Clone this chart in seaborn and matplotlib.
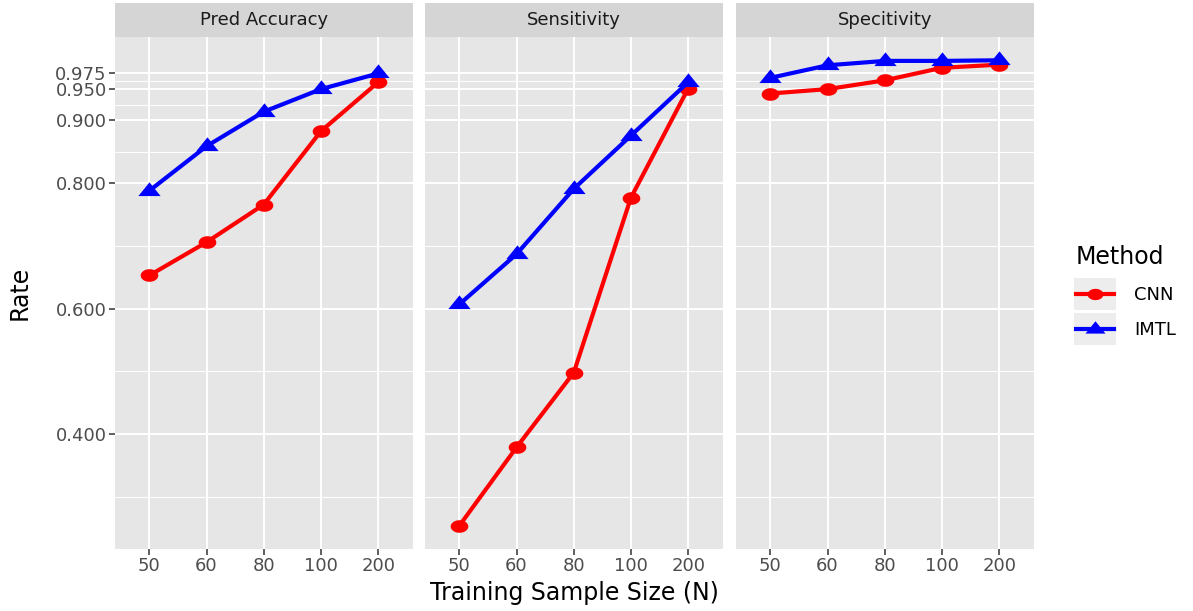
import numpy as np
import pandas as pd
import matplotlib
matplotlib.use("Agg")
import matplotlib.pyplot as plt
import seaborn as sns
from matplotlib.path import Path
from matplotlib.patches import Rectangle
from matplotlib.lines import Line2D

# ---------------- data ----------------
sizes = ["50", "60", "80", "100", "200"]
metrics = ["Pred Accuracy", "Sensitivity", "Specitivity"]
methods = ["CNN", "IMTL"]
cnn_acc = [0.653, 0.706, 0.766, 0.883, 0.961]
imtl_acc = [0.788, 0.859, 0.914, 0.950, 0.975]
cnn_sens = [0.254, 0.379, 0.498, 0.777, 0.951]
imtl_sens = [0.607, 0.687, 0.791, 0.876, 0.961]
cnn_spec = [0.943, 0.950, 0.964, 0.984, 0.989]
imtl_spec = [0.968, 0.988, 0.995, 0.995, 0.996]
y_major = [0.400, 0.600, 0.800, 0.900, 0.950, 0.975]
y_labels = ["0.400", "0.600", "0.800", "0.900", "0.950", "0.975"]

series = {
    ("Pred Accuracy", "CNN"): cnn_acc, ("Pred Accuracy", "IMTL"): imtl_acc,
    ("Sensitivity", "CNN"): cnn_sens, ("Sensitivity", "IMTL"): imtl_sens,
    ("Specitivity", "CNN"): cnn_spec, ("Specitivity", "IMTL"): imtl_spec,
}
rows = []
for (m, meth), vals in series.items():
    for n, v in zip(sizes, vals):
        rows.append({"Metric": m, "Method": meth, "N": n, "Rate": v})
df = pd.DataFrame(rows)

# ---------------- style ----------------
plt.rcParams["font.family"] = ["DejaVu Sans"]
FONT_TICK = 13
FONT_STRIP = 13
FONT_TITLE = 17
palette = {"CNN": "#FF0000", "IMTL": "#0000FF"}
PANEL_BG = "#E6E6E6"
STRIP_BG = "#D5D5D5"

# horizontally stretched markers (reference is a stretched image)
t = np.linspace(0, 2 * np.pi, 60)
ellipse = Path(np.column_stack([0.7 * np.cos(t), 0.5 * np.sin(t)]), closed=False)
tri = Path([(0, 0.667), (0.81, -0.333), (-0.81, -0.333), (0, 0.667)],
           [Path.MOVETO, Path.LINETO, Path.LINETO, Path.CLOSEPOLY])
markers = {"CNN": ellipse, "IMTL": tri}
msizes = {"CNN": 12.7, "IMTL": 16}

W, H = 1193, 611
fig = plt.figure(figsize=(W / 100, H / 100), dpi=100)
fig.patch.set_facecolor("white")

panel_left = [115, 425, 736]
panel_w = 297.5
top_px, bot_px = 37, 549
strip_h = 34

ymin_d = df["Rate"].min()
ymax_d = df["Rate"].max()
rng = ymax_d - ymin_d
ylim = (ymin_d - 0.05 * rng, ymax_d + 0.05 * rng)
y_minor = [(a + b) / 2 for a, b in zip(y_major[:-1], y_major[1:])]
y_minor = [2 * y_major[0] - y_minor[0]] + y_minor

axes = []
for i, m in enumerate(metrics):
    ax = fig.add_axes([panel_left[i] / W, 1 - bot_px / H,
                       panel_w / W, (bot_px - top_px) / H])
    axes.append(ax)
    ax.set_facecolor(PANEL_BG)
    for s in ax.spines.values():
        s.set_visible(False)
    sub = df[df["Metric"] == m]
    for meth in methods:
        d = sub[sub["Method"] == meth]
        sns.lineplot(data=d, x="N", y="Rate", color=palette[meth],
                     marker=markers[meth], markersize=msizes[meth],
                     markeredgewidth=0, linewidth=3, sort=False, ax=ax,
                     legend=False, zorder=3)
    ax.set_xlim(-0.6, len(sizes) - 1 + 0.6)
    ax.set_ylim(*ylim)
    ax.set_yticks(y_major)
    ax.set_yticks(y_minor, minor=True)
    ax.set_yticklabels(y_labels)
    ax.set_axisbelow(True)
    ax.grid(which="major", color="white", linewidth=1.4)
    ax.grid(which="minor", axis="y", color="white", linewidth=0.7)
    ax.tick_params(axis="both", which="major", length=4, width=1.1,
                   color="#333333", labelcolor="#4D4D4D",
                   labelsize=FONT_TICK, pad=2)
    ax.tick_params(axis="y", which="minor", length=0)
    if i > 0:
        ax.tick_params(axis="y", left=False, labelleft=False)
    ax.set_xlabel("")
    ax.set_ylabel("")
    # strip
    sh = strip_h / (bot_px - top_px)
    ax.add_patch(Rectangle((0, 1), 1, sh, transform=ax.transAxes,
                           facecolor=STRIP_BG, edgecolor="none",
                           clip_on=False))
    ax.text(0.5, 1 + sh / 2, m, transform=ax.transAxes, ha="center",
            va="center", fontsize=FONT_STRIP, color="#1A1A1A")

fig.text(574 / W, 1 - 593 / H, "Training Sample Size (N)", ha="center",
         va="center", fontsize=FONT_TITLE, color="black")
fig.text(20 / W, 1 - 293 / H, "Rate", ha="center", va="center",
         rotation=90, fontsize=FONT_TITLE, color="black")

handles = [Line2D([], [], color=palette[mm], linewidth=3, marker=markers[mm],
                  markersize=msizes[mm] * 0.9, markeredgewidth=0)
           for mm in methods]
leg = fig.legend(handles, methods, title="Method", loc="upper left",
                 bbox_to_anchor=(1076 / W, 1 - 245 / H), frameon=False,
                 fontsize=FONT_TICK, title_fontsize=FONT_TITLE,
                 handlelength=2.1, handletextpad=1.1, labelspacing=0.95,
                 borderpad=0, borderaxespad=0, alignment="left")
fig.canvas.draw()
for h in leg.legend_handles:
    bb = h.get_window_extent(fig.canvas.get_renderer())
    cx, cy = (bb.x0 + bb.x1) / 2, (bb.y0 + bb.y1) / 2
    fig.patches.append(Rectangle(((cx - 21) / W, (cy - 16) / H), 42 / W,
                                 32 / H, transform=fig.transFigure,
                                 facecolor="#EDEDED", edgecolor="none",
                                 zorder=1, figure=fig))

fig.savefig("out.png", dpi=100)
